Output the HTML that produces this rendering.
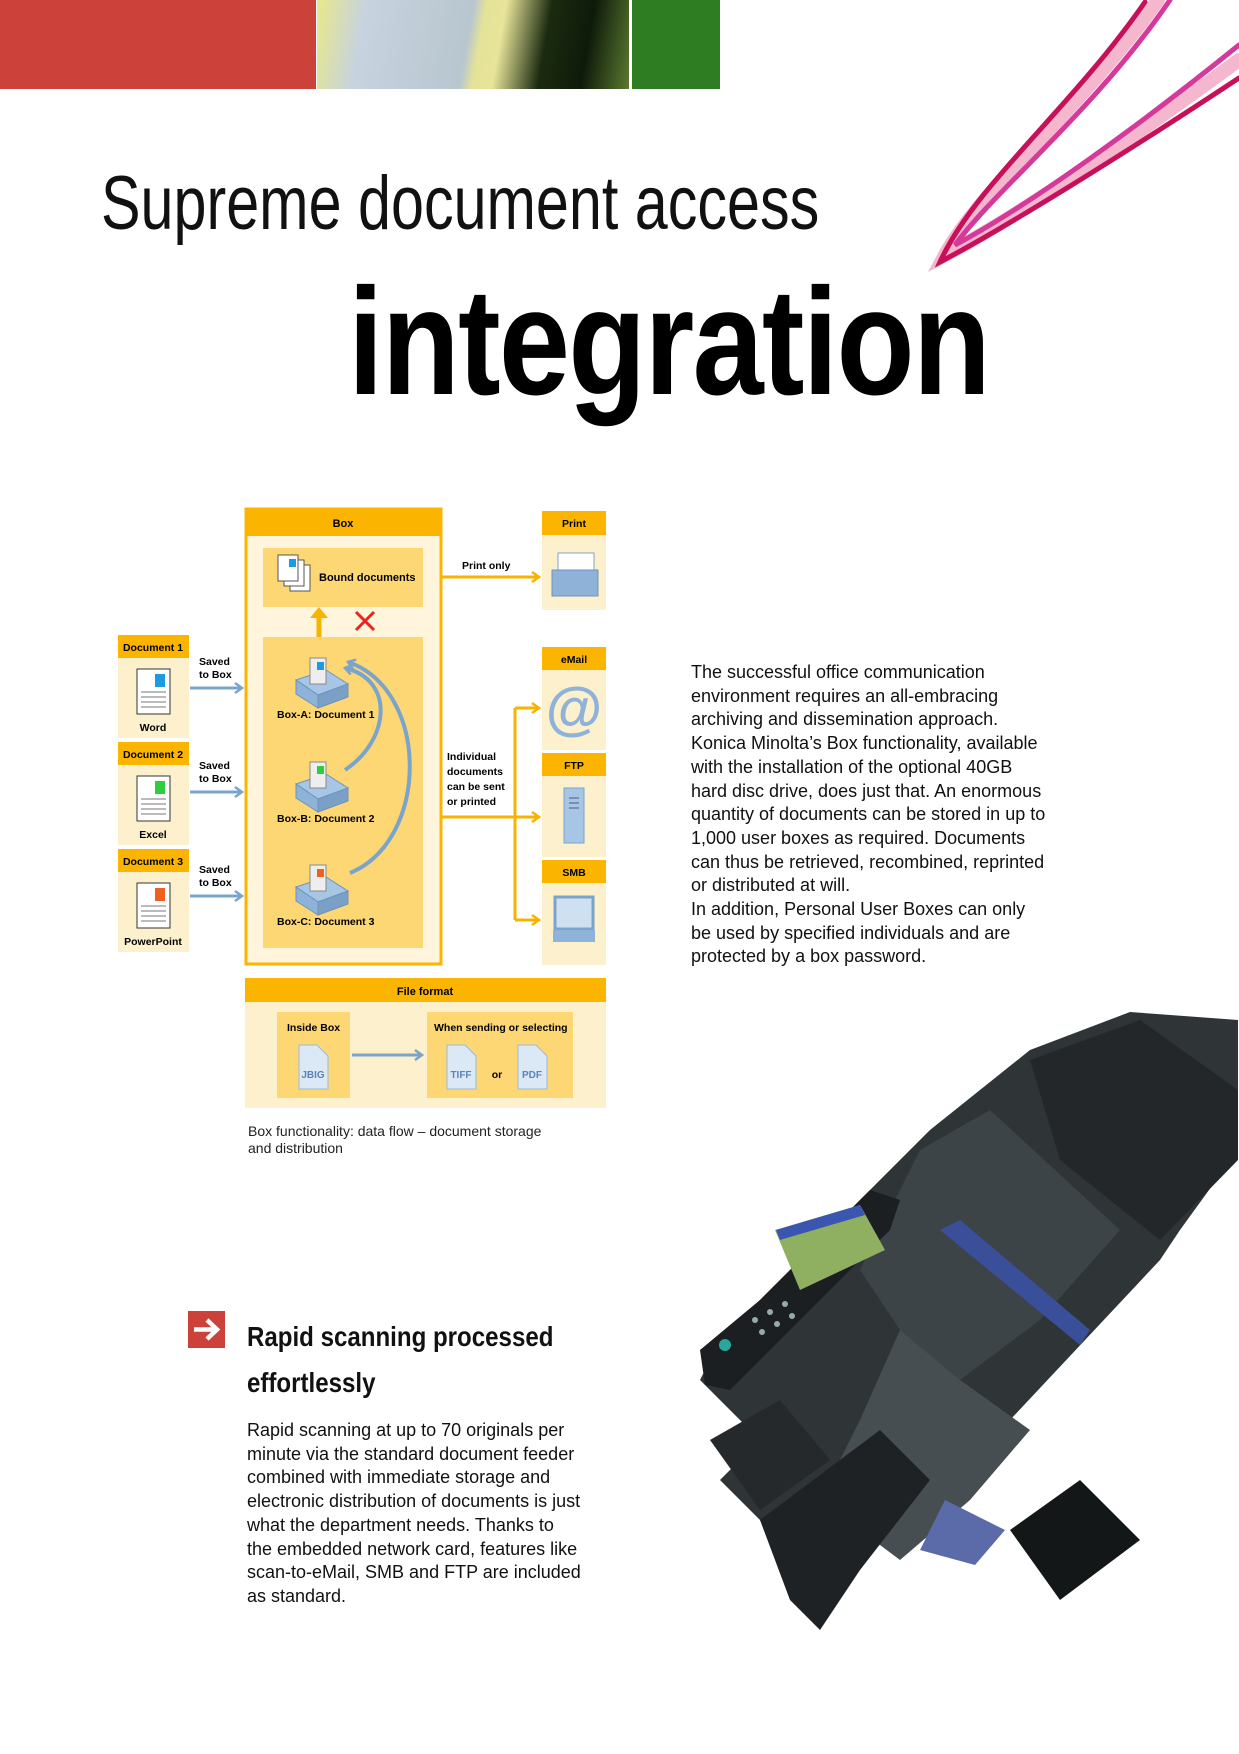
<!DOCTYPE html>
<html><head><meta charset="utf-8"><style>
body{margin:0;width:1239px;height:1754px;position:relative;background:#fff;overflow:hidden;font-family:"Liberation Sans",sans-serif;}
.abs{position:absolute;}
.t1{left:101px;top:160px;font-size:76px;white-space:nowrap;transform:scaleX(0.78);transform-origin:0 0;color:#111;}
.t2{left:348px;top:255px;font-size:152px;font-weight:bold;white-space:nowrap;transform:scaleX(0.84);transform-origin:0 0;color:#000;letter-spacing:-2px}
.body{font-size:18px;line-height:23.7px;color:#111;}
</style></head><body>
<div class="abs" style="left:0;top:0;width:316px;height:89px;background:#cc4139"></div>
<div class="abs" style="left:317px;top:0;width:312px;height:89px;background:linear-gradient(100deg,#e9e88a 0%,#c7d3de 15%,#b8c6d0 48%,#e4e398 52%,#e8e49a 58%,#1b2b10 72%,#0e1a0a 85%,#5a7a30 100%)"></div>
<div class="abs" style="left:632px;top:0;width:88px;height:89px;background:#2e7d22"></div>
<svg class="abs" style="left:0;top:0" width="1239" height="300">
<g fill="none" stroke-linecap="round">
<path d="M1158 0 C1080 110 980 190 945 255 C1020 215 1130 140 1239 60" stroke="#e0306f" stroke-width="14" opacity=".35"/>
<path d="M1145 2 C1070 110 975 185 940 262 C1010 225 1130 150 1239 78" stroke="#c8105a" stroke-width="5"/>
<path d="M1170 0 C1095 110 995 190 955 245 C1030 205 1140 125 1239 45" stroke="#d53a9a" stroke-width="5"/>
</g></svg>
<div class="abs t1">Supreme document access</div>
<div class="abs t2">integration</div>

<svg class="abs" style="left:0;top:0" width="1239" height="1200" font-family="Liberation Sans, sans-serif" font-weight="bold" font-size="11">
<defs><marker id="ab" markerUnits="userSpaceOnUse" markerWidth="10" markerHeight="12" refX="8" refY="6" orient="auto"><path d="M1 1L8 6L1 11" fill="none" stroke="#7ba4cc" stroke-width="2.5"/></marker>
<marker id="ao" markerUnits="userSpaceOnUse" markerWidth="10" markerHeight="12" refX="8" refY="6" orient="auto"><path d="M1 1L8 6L1 11" fill="none" stroke="#f6b400" stroke-width="2.5"/></marker></defs>
<g>
<rect x="118" y="635" width="71" height="103" fill="#fdf0cc"/><rect x="118" y="635" width="71" height="23" fill="#fbb500"/>
<rect x="118" y="742" width="71" height="103" fill="#fdf0cc"/><rect x="118" y="742" width="71" height="23" fill="#fbb500"/>
<rect x="118" y="849" width="71" height="103" fill="#fdf0cc"/><rect x="118" y="849" width="71" height="23" fill="#fbb500"/>
<text x="153" y="651" text-anchor="middle" font-size="10.5">Document 1</text>
<text x="153" y="758" text-anchor="middle" font-size="10.5">Document 2</text>
<text x="153" y="865" text-anchor="middle" font-size="10.5">Document 3</text>
<g fill="#fff" stroke="#333"><rect x="137" y="669" width="33" height="45"/><rect x="137" y="776" width="33" height="45"/><rect x="137" y="883" width="33" height="45"/></g>
<rect x="155" y="674" width="10" height="13" fill="#1e9be0"/><rect x="155" y="781" width="10" height="13" fill="#2ecc40"/><rect x="155" y="888" width="10" height="13" fill="#f06020"/>
<g stroke="#777"><path d="M141 692h25M141 697h25M141 702h25M141 707h25M141 799h25M141 804h25M141 809h25M141 814h25M141 906h25M141 911h25M141 916h25M141 921h25"/></g>
<text x="153" y="731" text-anchor="middle" font-size="10.5">Word</text>
<text x="153" y="838" text-anchor="middle" font-size="10.5">Excel</text>
<text x="153" y="945" text-anchor="middle" font-size="10.5">PowerPoint</text>
<g font-size="10.5"><text x="199" y="665">Saved</text><text x="199" y="678">to Box</text><text x="199" y="769">Saved</text><text x="199" y="782">to Box</text><text x="199" y="873">Saved</text><text x="199" y="886">to Box</text></g>
<g stroke="#7ba4cc" stroke-width="3" marker-end="url(#ab)"><path d="M190 688H242"/><path d="M190 792H242"/><path d="M190 896H242"/></g>
</g>
<rect x="246" y="509" width="195" height="455" fill="#fef5dc" stroke="#fbb500" stroke-width="3"/>
<rect x="245" y="509" width="197" height="27" fill="#fbb500"/>
<text x="343" y="527" text-anchor="middle">Box</text>
<rect x="263" y="548" width="160" height="59" fill="#fdd774"/>
<g fill="#fff" stroke="#555"><rect x="290" y="565" width="20" height="26"/><rect x="284" y="560" width="20" height="26"/><rect x="278" y="555" width="20" height="26"/></g>
<rect x="289" y="559" width="7" height="8" fill="#1e9be0"/>
<text x="319" y="581" font-size="11">Bound documents</text>
<path d="M319 637V615" stroke="#f6b400" stroke-width="5"/><path d="M310 618L319 607L328 618Z" fill="#f6b400"/>
<path d="M356 612L374 630M374 612L356 630" stroke="#e8251c" stroke-width="3"/>
<rect x="263" y="637" width="160" height="311" fill="#fdd774"/>
<g fill="none" stroke="#7ba4cc" stroke-width="4"><path d="M345 770C390 740 395 680 345 668" marker-end="url(#ab)"/><path d="M350 873C430 840 430 690 348 662" marker-end="url(#ab)"/></g>
<g>
<g><path d="M296 680L326 670L348 684L318 695Z" fill="#a7c6e6" stroke="#6e93bb"/><path d="M296 680V694L318 708V695Z" fill="#8eb2d8" stroke="#6e93bb"/><path d="M318 695V708L348 697V684Z" fill="#7aa0c8" stroke="#6e93bb"/><rect x="310" y="658" width="16" height="26" fill="#eee" stroke="#888"/><rect x="317" y="662" width="7" height="8" fill="#1e9be0"/></g>
<g transform="translate(0,104)"><path d="M296 680L326 670L348 684L318 695Z" fill="#a7c6e6" stroke="#6e93bb"/><path d="M296 680V694L318 708V695Z" fill="#8eb2d8" stroke="#6e93bb"/><path d="M318 695V708L348 697V684Z" fill="#7aa0c8" stroke="#6e93bb"/><rect x="310" y="658" width="16" height="26" fill="#eee" stroke="#888"/><rect x="317" y="662" width="7" height="8" fill="#2ecc40"/></g>
<g transform="translate(0,207)"><path d="M296 680L326 670L348 684L318 695Z" fill="#a7c6e6" stroke="#6e93bb"/><path d="M296 680V694L318 708V695Z" fill="#8eb2d8" stroke="#6e93bb"/><path d="M318 695V708L348 697V684Z" fill="#7aa0c8" stroke="#6e93bb"/><rect x="310" y="658" width="16" height="26" fill="#eee" stroke="#888"/><rect x="317" y="662" width="7" height="8" fill="#f06020"/></g>
</g>
<g font-size="10.5"><text x="277" y="718">Box-A: Document 1</text><text x="277" y="822">Box-B: Document 2</text><text x="277" y="925">Box-C: Document 3</text></g>
<g>
<rect x="542" y="511" width="64" height="99" fill="#fdf0cc"/><rect x="542" y="511" width="64" height="24" fill="#fbb500"/>
<rect x="542" y="647" width="64" height="103" fill="#fdf0cc"/><rect x="542" y="647" width="64" height="23" fill="#fbb500"/>
<rect x="542" y="753" width="64" height="104" fill="#fdf0cc"/><rect x="542" y="753" width="64" height="23" fill="#fbb500"/>
<rect x="542" y="860" width="64" height="105" fill="#fdf0cc"/><rect x="542" y="860" width="64" height="23" fill="#fbb500"/>
<g font-size="10.5" text-anchor="middle"><text x="574" y="527">Print</text><text x="574" y="663">eMail</text><text x="574" y="769">FTP</text><text x="574" y="876">SMB</text></g>
<rect x="558" y="553" width="36" height="24" fill="#fff" stroke="#7ba4cc"/><rect x="552" y="570" width="46" height="26" fill="#8eb2d8" stroke="#6e93bb"/>
<text x="574" y="728" text-anchor="middle" font-size="58" fill="#8eb2d8" font-weight="bold">@</text>
<rect x="564" y="788" width="20" height="55" fill="#a7c6e6" stroke="#7ba4cc"/><path d="M569 798h10M569 803h10M569 808h10" stroke="#557"/>
<rect x="555" y="897" width="38" height="32" fill="#cfe0f0" stroke="#7ba4cc" stroke-width="3"/><rect x="553" y="930" width="42" height="12" fill="#8eb2d8"/>
</g>
<g stroke="#f6b400" stroke-width="3" fill="none">
<path d="M442 577H539" marker-end="url(#ao)"/>
<path d="M442 817H514"/><path d="M515 708V920"/>
<path d="M515 708H539" marker-end="url(#ao)"/><path d="M515 817H539" marker-end="url(#ao)"/><path d="M515 920H539" marker-end="url(#ao)"/>
</g>
<text x="462" y="569" font-size="10.5">Print only</text>
<g font-size="10.5"><text x="447" y="760">Individual</text><text x="447" y="775">documents</text><text x="447" y="790">can be sent</text><text x="447" y="805">or printed</text></g>
<rect x="245" y="978" width="361" height="130" fill="#fdf0cc"/><rect x="245" y="978" width="361" height="24" fill="#fbb500"/>
<text x="425" y="995" text-anchor="middle">File format</text>
<rect x="277" y="1012" width="73" height="86" fill="#fdd774"/><rect x="427" y="1012" width="146" height="86" fill="#fdd774"/>
<text x="287" y="1031" font-size="10.5">Inside Box</text><text x="434" y="1031" font-size="10.5">When sending or selecting</text>
<g fill="#dbe8f5" stroke="#9bbbd8"><path d="M299 1045h18l11 11v33h-29Z"/><path d="M447 1045h18l11 11v33h-29Z"/><path d="M518 1045h18l11 11v33h-29Z"/></g>
<g font-size="10" fill="#5a86b8" text-anchor="middle"><text x="313" y="1078">JBIG</text><text x="461" y="1078">TIFF</text><text x="532" y="1078">PDF</text></g>
<text x="497" y="1078" font-size="10.5" text-anchor="middle">or</text>
<path d="M352 1055H422" stroke="#7ba4cc" stroke-width="3" marker-end="url(#ab)"/>
<text x="248" y="1136" font-size="14" font-weight="normal" fill="#222">Box functionality: data flow – document storage</text>
<text x="248" y="1153" font-size="14" font-weight="normal" fill="#222">and distribution</text>
</svg>

<div class="abs body" style="left:691px;top:661px;width:420px">The successful office communication<br>environment requires an all-embracing<br>archiving and dissemination approach.<br>Konica Minolta’s Box functionality, available<br>with the installation of the optional 40GB<br>hard disc drive, does just that. An enormous<br>quantity of documents can be stored in up to<br>1,000 user boxes as required. Documents<br>can thus be retrieved, recombined, reprinted<br>or distributed at will.<br>In addition, Personal User Boxes can only<br>be used by specified individuals and are<br>protected by a box password.</div>

<svg class="abs" style="left:0;top:0" width="1239" height="1754">
<path d="M1030 1050 L1130 1012 L1238 1020 L1238 1150 L1180 1230 L1160 1260 L1010 1420 L930 1480 L880 1520 L830 1560 L780 1560 L760 1520 L720 1480 L760 1440 L700 1380 L720 1340 L760 1300 L870 1190 L930 1130 Z" fill="#2f3437"/>
<path d="M1030 1060 L1140 1020 L1238 1090 L1238 1160 L1160 1240 L1060 1160 Z" fill="#232729"/>
<path d="M920 1150 L990 1110 L1120 1230 L1040 1320 L960 1380 L900 1330 L860 1270 Z" fill="#3d4447"/>
<path d="M940 1230 L960 1220 L1090 1330 L1080 1345 Z" fill="#3a4f9a"/>
<path d="M900 1330 L960 1380 L1030 1430 L970 1500 L900 1560 L820 1500 L860 1420 Z" fill="#474e52"/>
<path d="M945 1500 L1005 1530 L975 1565 L920 1550 Z" fill="#5b6aa8"/>
<path d="M700 1350 L760 1300 L870 1190 L900 1200 L890 1230 L790 1330 L730 1390 L705 1385 Z" fill="#1c1f21"/>
<path d="M775 1230 L860 1205 L885 1250 L800 1290 Z" fill="#8fb060"/>
<path d="M776 1230 L860 1205 L865 1215 L780 1240 Z" fill="#3a56b0"/>
<g fill="#9aa"><circle cx="755" cy="1320" r="3"/><circle cx="770" cy="1312" r="3"/><circle cx="785" cy="1304" r="3"/><circle cx="762" cy="1332" r="3"/><circle cx="777" cy="1324" r="3"/><circle cx="792" cy="1316" r="3"/></g>
<circle cx="725" cy="1345" r="6" fill="#2aa79b"/>
<path d="M710 1440 L780 1400 L830 1460 L760 1510 Z" fill="#25292b"/>
<path d="M760 1520 L880 1430 L930 1480 L860 1570 L820 1630 L790 1600 Z" fill="#1f2224"/>
<path d="M1010 1530 L1080 1480 L1140 1540 L1060 1600 Z" fill="#141718"/>
</svg>

<div class="abs" style="left:188px;top:1311px;width:37px;height:37px;background:#cc4139"></div>
<svg class="abs" style="left:188px;top:1311px" width="37" height="37"><path d="M6 18.5H28M19 9L29 18.5L19 28" fill="none" stroke="#fff" stroke-width="4.5"/></svg>
<div class="abs" style="left:247px;top:1314px;font-size:28px;font-weight:bold;line-height:46px;transform:scaleX(0.86);transform-origin:0 0;white-space:nowrap;color:#111">Rapid scanning processed<br>effortlessly</div>
<div class="abs body" style="left:247px;top:1419px;width:420px">Rapid scanning at up to 70 originals per<br>minute via the standard document feeder<br>combined with immediate storage and<br>electronic distribution of documents is just<br>what the department needs. Thanks to<br>the embedded network card, features like<br>scan-to-eMail, SMB and FTP are included<br>as standard.</div>
</body></html>
